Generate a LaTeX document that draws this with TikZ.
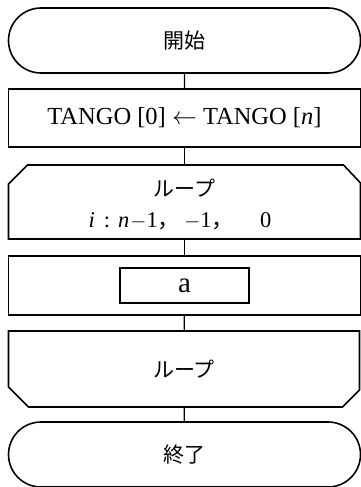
\documentclass[tikz,border=0pt]{standalone}
\usepackage{fontspec}
\setmainfont{Liberation Serif}
\newfontfamily\jp{Noto Sans CJK JP}
\usetikzlibrary{shapes.misc,calc}
\tikzset{
  shapeline/.style={draw, line width=1.6pt, inner sep=0pt, align=center},
  terminal/.style={shapeline, rounded rectangle, minimum width=352pt, minimum height=65pt},
  procbox/.style={shapeline, rectangle, minimum width=352pt},
  loopframe/.style={rectangle, inner sep=0pt, outer sep=0pt, minimum width=352pt},
  outline/.style={line width=1.6pt, line join=miter},
  flow/.style={line width=1.3pt},
  jptext/.style={font=\jp\fontsize{21}{26}\selectfont},
  lattext/.style={font=\fontsize{24.5}{30}\selectfont},
}
\begin{document}
\begin{tikzpicture}[x=1pt,y=-1pt]
  \useasboundingbox (0,0) rectangle (360,487);
  % terminals and process boxes
  \node[terminal, jptext] (start) at (184.5,40.5) {開始};
  \node[procbox, lattext, minimum height=58pt] (swap) at (184.5,118)
    {TANGO [0] $\leftarrow$ TANGO [\textit{n}]};
  % loop start (top corners cut)
  \node[loopframe, minimum height=74pt] (lbeg) at (184.5,202) {};
  \draw[outline] (lbeg.south west) -- ($(lbeg.north west)+(0,19)$) -- ($(lbeg.north west)+(19,0)$)
    -- ($(lbeg.north east)+(-17,0)$) -- ($(lbeg.north east)+(0,18)$) -- (lbeg.south east) -- cycle;
  \node[jptext] (lbegtitle) at (184.5,188) {ループ};
  \node[anchor=base, inner sep=0pt, font=\fontsize{22.5}{26}\selectfont] (lbegcond) at (180,227)
    {\textit{i}\hspace{9pt}:\hspace{8pt}\textit{n}\hspace{1pt}$-$1{\jp，}\hspace{4pt}$-$1{\jp，}\hspace{26pt}0};
  % loop body
  \node[procbox, minimum height=59pt] (body) at (184.5,285.5) {};
  \node[draw, line width=2.6pt, minimum width=129pt, minimum height=35pt, inner sep=0pt,
        font=\fontsize{29}{32}\selectfont] (stepa) at (184.5,285.5) {a};
  % loop end (bottom corners cut)
  \node[loopframe, minimum height=76pt, minimum width=351pt] (lend) at (184,369) {};
  \draw[outline] (lend.north west) -- (lend.north east) -- ($(lend.south east)+(0,-17)$)
    -- ($(lend.south east)+(-17,0)$) -- ($(lend.south west)+(20,0)$) -- ($(lend.south west)+(0,-20)$) -- cycle;
  \node[jptext] (lendtitle) at (184,369) {ループ};
  \node[terminal, jptext] (finish) at (184.5,454.5) {終了};
  % connectors
  \draw[flow] (start) -- (swap);
  \draw[flow] (swap) -- (lbeg);
  \draw[flow] (lbeg) -- (body);
  \draw[flow] (body) -- (lend);
  \draw[flow] (lend) -- (finish);
\end{tikzpicture}
\end{document}
